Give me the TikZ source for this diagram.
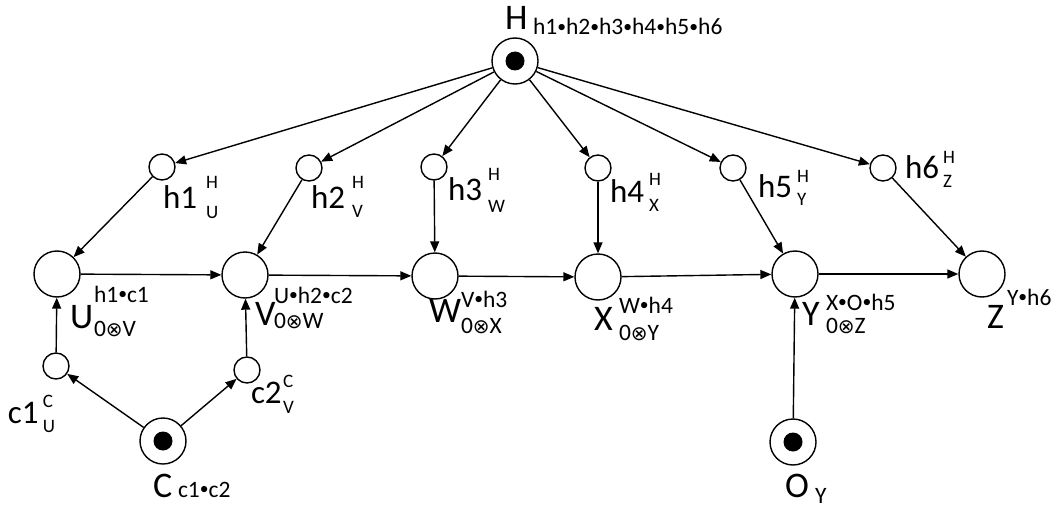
\documentclass[tikz,border=0pt]{standalone}
\usepackage{fontspec}
\usepackage{graphicx}
\setmainfont{Carlito}
\newfontfamily\symf{DejaVu Sans}
\usetikzlibrary{arrows.meta}

% symbols for the indices
\newcommand\ot{{\symf\fontsize{20}{20}\selectfont ⊗}}
\newcommand\bu{\raisebox{0.1em}{\scalebox{0.75}{•}}}
% main text in a box of given width, then an upper and a lower index stacked
% #1 text, #2 box width, #3 upper index, #4 lower index, #5 raise, #6 drop
\newcommand\lab[6]{\makebox[#2pt][l]{#1}{\fontsize{\idxsize}{\idxsize}\selectfont
  \setbox0\hbox{#3}\setbox2\hbox{#4}%
  \ifdim\wd0>\wd2 \dimen0=\wd0 \else \dimen0=\wd2 \fi
  \rlap{\raise#5pt\box0}\rlap{\lower#6pt\box2}\kern\dimen0}}

\tikzset{
  bignode/.style={circle, draw, line width=1.4pt, minimum size=46pt, inner sep=0pt},
  smallnode/.style={circle, draw, line width=1.4pt, minimum size=26pt, inner sep=0pt},
  srcnode/.style={bignode, path picture={\fill (path picture bounding box.center) circle (9.5pt);}},
  biglab/.style={anchor=base west, inner sep=0pt, outer sep=0pt,
    font=\fontsize{36}{36}\selectfont\def\idxsize{23.5}},
  smalllab/.style={anchor=base west, inner sep=0pt, outer sep=0pt,
    font=\fontsize{33}{33}\selectfont\def\idxsize{19}},
  edge/.style={line width=1.4pt, -{Triangle[length=11pt,width=9pt]}}
}

\begin{document}
\begin{tikzpicture}[x=1pt, y=-1pt]
\useasboundingbox (0,0) rectangle (1054,508);

% nodes
\node[srcnode] (H) at (515,61) {};
\node[smallnode] (h1) at (162,167) {};
\node[smallnode] (h2) at (309,168) {};
\node[smallnode] (h3) at (434,167) {};
\node[smallnode] (h4) at (598,168) {};
\node[smallnode] (h5) at (733,168) {};
\node[smallnode] (h6) at (883,168) {};
\node[bignode] (U) at (57,274) {};
\node[bignode] (V) at (245,275) {};
\node[bignode] (W) at (435,276) {};
\node[bignode] (X) at (598,277) {};
\node[bignode] (Y) at (795,274) {};
\node[bignode] (Z) at (982,274) {};
\node[smallnode] (c1) at (56,366) {};
\node[smallnode] (c2) at (247,370) {};
\node[srcnode] (C) at (163,441) {};
\node[srcnode] (O) at (793,442) {};

% labels
\node[biglab] (lH) at (505,30) {\lab{H}{28}{}{h1\bu h2\bu h3\bu h4\bu h5\bu h6}{0}{5}};
\node[biglab] (lU) at (70,328) {\lab{U}{24}{h1\bu c1}{0\ot V}{26}{8}};
\node[biglab] (lV) at (255,325) {\lab{V}{19}{U\bu h2\bu c2}{0\ot W}{22}{3}};
\node[biglab] (lW) at (429,322) {\lab{W}{32}{V\bu h3}{0\ot X}{15}{11}};
\node[biglab] (lX) at (594,330) {\lab{X}{25}{W\bu h4}{0\ot Y}{17}{10}};
\node[biglab] (lY) at (802,325) {\lab{Y}{24}{X\bu O\bu h5}{0\ot Z}{15}{8}};
\node[biglab] (lZ) at (987,328) {\lab{Z}{20}{Y\bu h6}{}{23}{0}};
\node[biglab] (lC) at (153,497) {\lab{C}{25}{}{c1\bu c2}{0}{0}};
\node[biglab] (lO) at (785,497) {\lab{O}{30}{}{Y}{0}{6}};
\node[smalllab] (lh1) at (163,208) {\lab{h1}{43}{H}{U}{20}{10}};
\node[smalllab] (lh2) at (311,208) {\lab{h2}{41}{H}{V}{20}{9}};
\node[smalllab] (lh3) at (448,200) {\lab{h3}{40}{H}{W}{20}{12}};
\node[smalllab] (lh4) at (610,202) {\lab{h4}{39}{H}{X}{17}{9}};
\node[smalllab] (lh5) at (758,197) {\lab{h5}{39}{H}{Y}{15}{8}};
\node[smalllab] (lh6) at (905,178) {\lab{h6}{38}{H}{Z}{15}{9}};
\node[smalllab] (lc1) at (8,423) {\lab{c1}{35}{C}{U}{16}{9}};
\node[smalllab] (lc2) at (251,403) {\lab{c2}{32}{C}{V}{16}{10}};

% connectors
\foreach \t in {h1,h2,h3,h4,h5,h6} \draw[edge] (H) -- (\t);
\draw[edge] (h1) -- (U);
\draw[edge] (h2) -- (V);
\draw[edge] (h3) -- (W);
\draw[edge] (h4) -- (X);
\draw[edge] (h5) -- (Y);
\draw[edge] (h6) -- (Z);
\draw[edge] (U) -- (V);
\draw[edge] (V) -- (W);
\draw[edge] (W) -- (X);
\draw[edge] (X) -- (Y);
\draw[edge] (Y) -- (Z);
\draw[edge] (C) -- (c1);
\draw[edge] (C) -- (c2);
\draw[edge] (c1) -- (U);
\draw[edge] (c2) -- (V);
\draw[edge] (O) -- (Y);
\end{tikzpicture}
\end{document}
